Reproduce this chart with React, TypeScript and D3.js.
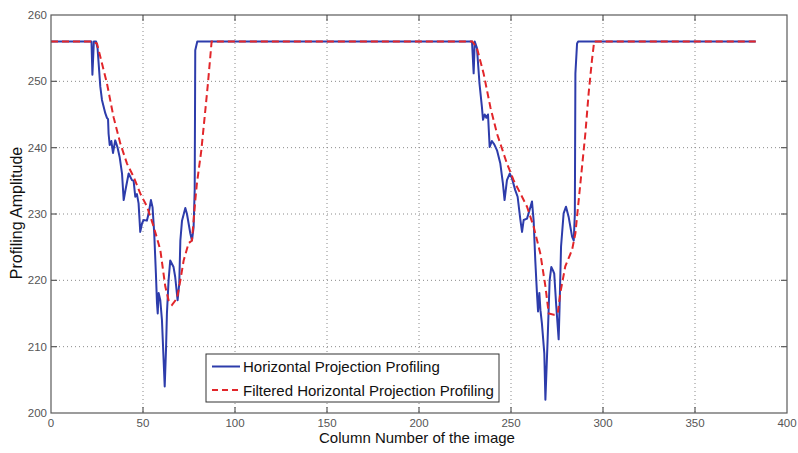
import React from "react";
import * as d3 from "d3";

const xTicks = [0, 50, 100, 150, 200, 250, 300, 350, 400];
const yTicks = [200, 210, 220, 230, 240, 250, 260];

const seriesNames = ["Horizontal Projection Profiling", "Filtered Horizontal Projection Profiling"];

// Horizontal projection profile (column, amplitude)
const rawCols = [0, 22, 22.5, 23.3, 24.5, 25.3, 26.8, 27.7, 29.5, 30.4, 31, 31.3, 31.9, 32.8, 33.7, 34.9, 36.2, 37.3, 38.6, 39.5, 40.4, 42.2, 44, 44.9, 45.8, 46.7, 47.6, 48.5, 49.5, 50.3, 52.1, 53, 54.3, 55.2, 56.1, 57, 57.6, 58, 58.5, 59.4, 60.3, 61.2, 61.8, 62.5, 63, 63.9, 64.8, 66.6, 67.5, 68.8, 69.7, 70.3, 71.2, 73, 73.9, 75.7, 76.6, 77.5, 78.1, 78.4, 79.5,
  228.8, 229.7, 230.3, 231.5, 232.9, 234.2, 234.8, 235.7, 236.6, 237.5, 238.4, 239.6, 240.9, 242.4, 244.2, 245.6, 246.5, 247.8, 249.3, 250.5, 252.3, 253.6, 255.1, 256, 256.9, 258.7, 260.1, 261.4, 262.3, 263.2, 264.1, 264.7, 265.4, 266, 266.8, 268.1, 268.7, 269.9, 271, 271.9, 272.8, 273.5, 274.6, 275.9, 276.4, 277.2, 278.6, 279.9, 281.3, 283.2, 284.1, 284.7, 285, 285.9, 286.5, 383];
const rawVals = [256, 256, 251, 256, 256, 255, 249.2, 247.2, 245.2, 244.5, 244.3, 242.1, 240.4, 241, 239.2, 241.1, 240, 238.6, 236.1, 232.1, 233.5, 236.1, 235.1, 235, 232.6, 233, 231.6, 227.3, 228.6, 229.1, 229, 230, 232.1, 231, 227.1, 221.1, 216.6, 215, 218.1, 217, 214, 208, 204, 209.5, 215, 220, 223, 222, 220.5, 217, 219.5, 226, 229, 230.9, 230, 227.1, 226, 228, 233.7, 254.7, 256,
  256, 251.2, 256, 255, 249.6, 246.1, 244.2, 245, 244.5, 245, 240.1, 241, 240.5, 239.6, 237.6, 234.6, 232.1, 235.1, 236.1, 235.4, 233.6, 232.6, 229.1, 227.3, 229.1, 229.3, 230.6, 231.9, 229, 223, 218.1, 215.3, 218.1, 215.5, 213.5, 209, 202, 211, 220, 222, 221.5, 221, 216.1, 211.1, 216, 225.1, 230.1, 231.1, 229.6, 226.6, 226, 230, 251.2, 255.7, 256, 256];

// Filtered profile (column, amplitude)
const filtCols = [0, 22.3, 25, 26.8, 30.4, 34, 37.7, 41.3, 44.9, 48.5, 52.2, 55.8, 59.4, 62.1, 63.9, 65.8, 68.5, 70.3, 72.1, 74.8, 76.6, 78.4, 79.3, 81.7, 83.5, 85.3, 87.3,
  229, 231.5, 235.1, 238.8, 242.4, 246, 247.8, 251.4, 255.1, 258.7, 262.3, 265.9, 268.7, 270.5, 273.2, 275.4, 276.8, 279.5, 283.2, 285, 286.8, 288.6, 290.4, 292.2, 294, 295.2, 383];
const filtVals = [256, 256, 255.7, 253.7, 249.7, 244.6, 240.6, 237.6, 235.6, 233.1, 231.1, 228.1, 224.6, 219.1, 217, 216.3, 217.3, 220, 223, 225.6, 226, 232, 234.6, 239.6, 244.6, 249.7, 256,
  256, 255, 251.2, 246.1, 242.1, 239.1, 237.6, 235.1, 233.1, 231.1, 228.1, 224.1, 219.1, 215, 214.8, 215, 218.1, 222.1, 224.6, 227.1, 232.1, 237.1, 242.1, 248.2, 253.2, 256, 256];

const W = 798, H = 453;
const L = 51, R = 787, T = 15, B = 413;
const FONT = "'Liberation Sans', Arial, sans-serif";
const BLUE = "#2d3cab";
const RED = "#e2262a";
const AX = "#5a5a5a";

export default function App() {
  const x = d3.scaleLinear().domain([0, 400]).range([L, R]);
  const y = d3.scaleLinear().domain([200, 260]).range([B, T]);
  const line = d3.line<[number, number]>().x(d => x(d[0])).y(d => y(d[1]));
  const rawPts = rawCols.map((c, i) => [c, rawVals[i]] as [number, number]);
  const filtPts = filtCols.map((c, i) => [c, filtVals[i]] as [number, number]);

  const lg = { x0: 206, y0: 354, x1: 499, y1: 402 };

  return (
    <svg width={W} height={H} style={{ position: "absolute", left: 0, top: 0, background: "#fff" }}>
      <rect x={0} y={0} width={W} height={H} fill="#fff" />
      {/* grid */}
      {xTicks.slice(1, -1).map(t => (
        <line key={"gx" + t} x1={x(t)} x2={x(t)} y1={T} y2={B} stroke="#8a8a8a" strokeWidth={1} strokeDasharray="1,3" />
      ))}
      {yTicks.slice(1, -1).map(t => (
        <line key={"gy" + t} x1={L} x2={R} y1={y(t)} y2={y(t)} stroke="#8a8a8a" strokeWidth={1} strokeDasharray="1,3" />
      ))}
      {/* data */}
      <path d={line(rawPts) || ""} fill="none" stroke={BLUE} strokeWidth={2} strokeLinejoin="round" />
      <path d={line(filtPts) || ""} fill="none" stroke={RED} strokeWidth={2} strokeDasharray="7,4" />
      {/* frame */}
      <rect x={L} y={T} width={R - L} height={B - T} fill="none" stroke={AX} strokeWidth={1.2} />
      {xTicks.slice(1, -1).map(t => (
        <g key={"tx" + t}>
          <line x1={x(t)} x2={x(t)} y1={B} y2={B - 6} stroke={AX} strokeWidth={1.2} />
          <line x1={x(t)} x2={x(t)} y1={T} y2={T + 6} stroke={AX} strokeWidth={1.2} />
        </g>
      ))}
      {yTicks.slice(1, -1).map(t => (
        <g key={"ty" + t}>
          <line x1={L} x2={L + 6} y1={y(t)} y2={y(t)} stroke={AX} strokeWidth={1.2} />
          <line x1={R} x2={R - 6} y1={y(t)} y2={y(t)} stroke={AX} strokeWidth={1.2} />
        </g>
      ))}
      {xTicks.map(t => (
        <text key={"lx" + t} x={x(t)} y={427} textAnchor="middle" fontFamily={FONT} fontSize={11.5} fill="#555">{t}</text>
      ))}
      {yTicks.map(t => (
        <text key={"ly" + t} x={47} y={y(t) + 4} textAnchor="end" fontFamily={FONT} fontSize={11.5} fill="#555">{t}</text>
      ))}
      <text x={417} y={443} textAnchor="middle" fontFamily={FONT} fontSize={15} fill="#111">Column Number of the image</text>
      <text transform={`translate(22,213) rotate(-90)`} textAnchor="middle" fontFamily={FONT} fontSize={16} fill="#111">Profiling Amplitude</text>
      {/* legend */}
      <rect x={lg.x0} y={lg.y0} width={lg.x1 - lg.x0} height={lg.y1 - lg.y0} fill="#fff" stroke="#333" strokeWidth={1} />
      <line x1={212} x2={240} y1={366.5} y2={366.5} stroke={BLUE} strokeWidth={2} />
      <line x1={212} x2={240} y1={390} y2={390} stroke={RED} strokeWidth={2} strokeDasharray="6,4" />
      <text x={243} y={372} fontFamily={FONT} fontSize={15} fill="#111">{seriesNames[0]}</text>
      <text x={243} y={395.5} fontFamily={FONT} fontSize={15} fill="#111">{seriesNames[1]}</text>
    </svg>
  );
}
